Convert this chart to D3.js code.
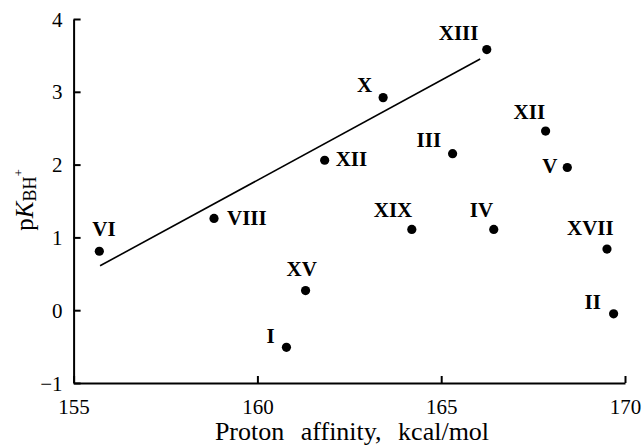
<!DOCTYPE html>
<html>
<head>
<meta charset="utf-8">
<script src="https://cdn.jsdelivr.net/npm/d3@7"></script>
<style>
  body { margin: 0; background: #fff; }
  svg { display: block; font-family: "Liberation Serif", "Times New Roman", serif; }
</style>
</head>
<body>
<div id="chart"></div>
<script>
// data
var names = ["VI", "VIII", "XII", "X", "XIII", "III", "XII", "V", "XIX", "IV", "XVII", "II", "I", "XV"];
var protonAffinity = [155.70, 158.82, 161.83, 163.42, 166.24, 165.31, 167.84, 168.43, 164.20, 166.43, 169.51, 169.69, 160.79, 161.31];
var pKBH = [0.81, 1.26, 2.06, 2.92, 3.58, 2.15, 2.46, 1.96, 1.11, 1.11, 0.84, -0.05, -0.51, 0.27];
// fitted line ends
var fitX = [155.72, 166.06];
var fitY = [0.61, 3.45];
var xTicks = [155, 160, 165, 170];
var yTicks = [-1, 0, 1, 2, 3, 4];

// where each label sits relative to its point (px: left edge, baseline)
var labelOffsets = [[-7, -15], [13, 7], [11, 6], [-26, -6], [-48, -10], [-36, -7], [-32, -12],
                    [-25, 5], [-38, -12], [-24, -12], [-40, -14], [-29, -5], [-20, -4], [-19, -15]];

var W = 644, H = 445;
var plotLeft = 73.6, plotRight = 625, plotTop = 19, plotBottom = 383;

var svg = d3.select("#chart").append("svg")
    .attr("width", W)
    .attr("height", H);

var x = d3.scaleLinear().domain([155, 170]).range([plotLeft, plotRight]);
var y = d3.scaleLinear().domain([-1, 4]).range([plotBottom, plotTop]);

// axes, ticks pointing inward
var xAxis = d3.axisBottom(x).tickValues(xTicks).tickSize(-7).tickSizeOuter(0).tickPadding(16);
var yAxis = d3.axisLeft(y).tickValues(yTicks).tickSize(-7).tickSizeOuter(0).tickPadding(11)
    .tickFormat(d => d < 0 ? "\u2212" + Math.abs(d) : d);

var gx = svg.append("g").attr("transform", "translate(0," + plotBottom + ")").call(xAxis);
var gy = svg.append("g").attr("transform", "translate(" + plotLeft + ",0)").call(yAxis);

[gx, gy].forEach(g => {
    g.select(".domain").attr("stroke", "#000").attr("stroke-width", 2);
    g.selectAll(".tick line").attr("stroke", "#000").attr("stroke-width", 2);
    g.selectAll(".tick text")
        .attr("fill", "#000")
        .style("font-family", "'Liberation Serif', serif")
        .style("font-size", "21px");
});
gx.selectAll(".tick text").attr("dy", "0.71em");
gy.selectAll(".tick text").attr("dy", "0.34em");

// regression line
svg.append("line")
    .attr("x1", x(fitX[0])).attr("y1", y(fitY[0]))
    .attr("x2", x(fitX[1])).attr("y2", y(fitY[1]))
    .attr("stroke", "#000")
    .attr("stroke-width", 1.6);

// points
svg.selectAll("circle.pt")
    .data(protonAffinity)
    .enter()
    .append("circle")
    .attr("class", "pt")
    .attr("cx", d => x(d))
    .attr("cy", (d, i) => y(pKBH[i]))
    .attr("r", 4.6)
    .attr("fill", "#000");

// point labels
svg.selectAll("text.lbl")
    .data(names)
    .enter()
    .append("text")
    .attr("class", "lbl")
    .attr("x", (d, i) => x(protonAffinity[i]) + labelOffsets[i][0])
    .attr("y", (d, i) => y(pKBH[i]) + labelOffsets[i][1])
    .style("font-size", "21px")
    .style("font-weight", "bold")
    .text(d => d);

// axis titles
svg.append("text")
    .attr("x", 352)
    .attr("y", 440)
    .attr("text-anchor", "middle")
    .style("font-size", "26px")
    .style("word-spacing", "10px")
    .text("Proton affinity, kcal/mol");

var yt = svg.append("text")
    .attr("transform", "translate(33,200) rotate(-90)")
    .attr("text-anchor", "middle")
    .style("font-size", "25px");
yt.append("tspan").text("p");
yt.append("tspan").style("font-style", "italic").text("K");
yt.append("tspan").attr("dy", 3).style("font-size", "18px").text("BH");
yt.append("tspan").attr("dy", -13).style("font-size", "13px").text("+");
</script>
</body>
</html>
